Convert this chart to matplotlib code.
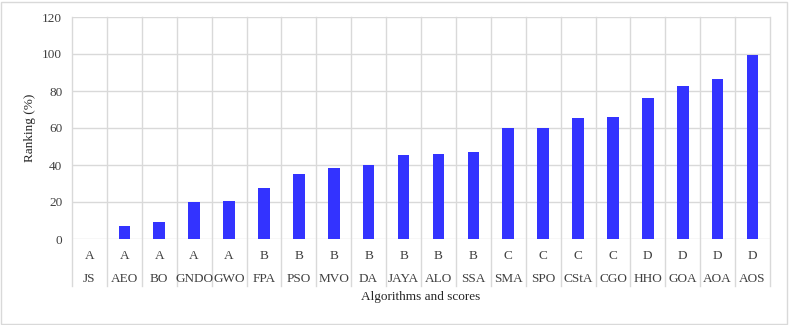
import matplotlib
matplotlib.use("Agg")
import matplotlib.pyplot as plt
from matplotlib.patches import Rectangle
import matplotlib.transforms as mtransforms

algorithms = ["JS", "AEO", "BO", "GNDO", "GWO", "FPA", "PSO", "MVO", "DA", "JAYA",
              "ALO", "SSA", "SMA", "SPO", "CStA", "CGO", "HHO", "GOA", "AOA", "AOS"]
scores = ["A", "A", "A", "A", "A", "B", "B", "B", "B", "B",
          "B", "B", "C", "C", "C", "C", "D", "D", "D", "D"]
ranking = [0, 6.9, 9.0, 20.1, 20.8, 27.5, 35.4, 38.5, 40.1, 45.2,
           46.1, 46.8, 59.8, 59.8, 65.2, 65.8, 76.1, 82.6, 86.6, 99.6]
yticks = [0, 20, 40, 60, 80, 100, 120]

plt.rcParams['font.family'] = ['Liberation Serif', 'DejaVu Serif']

W, H = 789, 325
fig = plt.figure(figsize=(W / 100, H / 100), dpi=100)
left_px, right_px, top_px, bottom_px = 72, 770, 17, 239
ax = fig.add_axes([left_px / W, (H - bottom_px) / H,
                   (right_px - left_px) / W, (bottom_px - top_px) / H])

grid_c = "#D9D9D9"
n = len(algorithms)
x = list(range(n))
ax.bar(x, ranking, width=0.33, color="#3333FF", zorder=3)
ax.set_xlim(-0.5, n - 0.5)
ax.set_ylim(0, 120)
ax.set_yticks(yticks)
ax.set_yticklabels([str(v) for v in yticks], fontsize=9.5, color="#404040")
ax.tick_params(axis='y', length=0, pad=7)
ax.set_xticks([])
for s in ax.spines.values():
    s.set_visible(False)
for v in yticks:
    ax.axhline(v, color=grid_c, lw=1, zorder=1)

ph = bottom_px - top_px
trans = mtransforms.blended_transform_factory(ax.transData, ax.transAxes)
ext = -(286 - bottom_px) / ph
for b in [i - 0.5 for i in range(n + 1)]:
    ax.plot([b, b], [ext, 1], transform=trans, color=grid_c, lw=1,
            clip_on=False, zorder=1)

y_score = -(256 - bottom_px) / ph
y_name = -(279 - bottom_px) / ph
for i in range(n):
    ax.text(i, y_score, scores[i], transform=trans, ha='center', va='center',
            fontsize=9.5, color="#404040")
    ax.text(i, y_name, algorithms[i], transform=trans, ha='center', va='center',
            fontsize=9.5, color="#404040")

ax.text(0.5, -(297 - bottom_px) / ph, "Algorithms and scores", transform=ax.transAxes,
        ha='center', va='center', fontsize=9.5, color="#262626")
fig.text(30 / W, 1 - 128 / H, "Ranking (%)", rotation=90, ha='center', va='center',
         fontsize=9.5, color="#262626")

fig.patches.append(Rectangle((1 / W, 1 / H), (W - 3) / W, (H - 3) / H,
                             transform=fig.transFigure, fill=False,
                             edgecolor="#D9D9D9", lw=1))

fig.savefig("out.png", dpi=100)
